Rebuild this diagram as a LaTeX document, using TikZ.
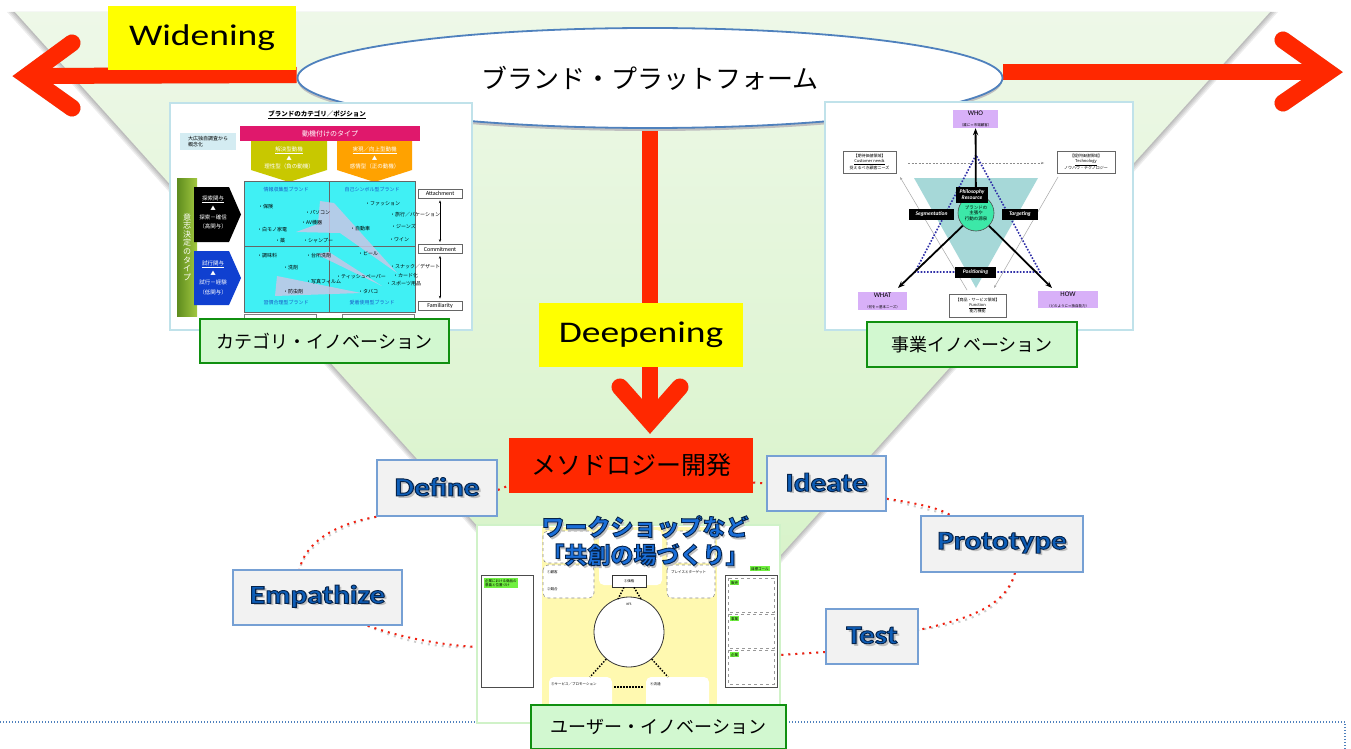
\documentclass[tikz,border=0pt]{standalone}
\usepackage{fontspec}
\usepackage{graphicx}
\setmainfont{Carlito}
\newfontfamily\jp{Noto Sans CJK JP}
\newfontfamily\lat{Carlito}
\usetikzlibrary{shapes.geometric,arrows.meta}
\pgfdeclarelayer{back}
\pgfdeclarelayer{bg}
\pgfsetlayers{back,bg,main}
\definecolor{gtop}{HTML}{EEF8E8}
\definecolor{gbot}{HTML}{D2F2C2}
\definecolor{arr}{HTML}{FF2800}
\definecolor{shadowc}{HTML}{C9D2C5}
\definecolor{ylw}{HTML}{FFFF00}
\definecolor{ellb}{HTML}{4F81BD}
\definecolor{lblfill}{HTML}{D2F8D0}
\definecolor{lbldraw}{HTML}{109010}
\definecolor{framec}{HTML}{C0E2EA}
\definecolor{dtfill}{HTML}{F2F2F2}
\definecolor{dtdraw}{HTML}{76A0D4}
\definecolor{dtblue}{HTML}{0E5EB8}
\definecolor{dtdark}{HTML}{06234A}
\definecolor{dotred}{HTML}{F02010}
\definecolor{catlb}{HTML}{D4ECF2}
\definecolor{magbar}{HTML}{E0186C}
\definecolor{olivey}{HTML}{C8C800}
\definecolor{orng}{HTML}{FFA200}
\definecolor{gbar1}{HTML}{5E8C1E}
\definecolor{gbar2}{HTML}{A2C840}
\definecolor{bluepent}{HTML}{1040D0}
\definecolor{cyangrid}{HTML}{40F0F4}
\definecolor{qblue}{HTML}{1A5AC8}
\definecolor{lav}{HTML}{C8C6E6}
\definecolor{teal}{HTML}{A6D8D8}
\definecolor{dotblue}{HTML}{3030A8}
\definecolor{lavbox}{HTML}{D8B0F8}
\definecolor{brandg}{HTML}{3CE8A8}
\definecolor{wsy}{HTML}{FFF9B0}
\definecolor{wsframe}{HTML}{D0F2C8}
\definecolor{tagg}{HTML}{70F040}
\definecolor{wsblue}{HTML}{1A6ED8}
\newcommand\hs[2][1.25]{\scalebox{#1}[1]{#2}}
% text with a dark outline (PDF text render mode 2) and a soft grey shadow
\newcommand\outl[2]{\leavevmode\rlap{\color{black!25}\hspace{2pt}\raisebox{-2.5pt}{#1}}{\color{#2}\special{pdf:literal direct 2 Tr 0.9 w 0.024 0.137 0.29 RG}#1\special{pdf:literal direct 0 Tr}}}
\tikzset{
 ybox/.style={fill=ylw, inner sep=0pt, font=\lat\fontsize{30}{34}\selectfont},
 lblbox/.style={fill=lblfill, draw=lbldraw, line width=1.8pt, inner sep=0pt, font=\jp\fontsize{18}{20}\selectfont},
 dtbox/.style={fill=dtfill, draw=dtdraw, line width=1.6pt, inner sep=0pt, font=\lat\bfseries\fontsize{26}{30}\selectfont},
 imgframe/.style={fill=white, draw=framec, line width=1.2pt, inner sep=0pt},
 redline/.style={draw=arr, line width=16pt},
 redchev/.style={draw=arr, line width=17pt, line cap=round, line join=miter},
 redshad/.style={draw=shadowc, xshift=1.5pt, yshift=-4pt},
 dotconn/.style={draw=dotred, line width=2pt, dash pattern=on 2pt off 5pt},
 dotshad/.style={draw=black!20, line width=2pt, dash pattern=on 2pt off 5pt, yshift=-4pt},
 tinytxt/.style={font=\jp\fontsize{5}{6}\selectfont, inner sep=0pt},
 wtxt/.style={font=\jp\fontsize{5.5}{6.5}\selectfont, inner sep=0pt, text=white},
 blk/.style={fill=black, text=white, font=\lat\bfseries\itshape\fontsize{5.5}{6}\selectfont, align=center, inner sep=0pt},
 lavb/.style={fill=lavbox, inner sep=0pt, align=center},
 wbox/.style={fill=white, draw=black!60, line width=0.6pt, inner sep=0pt, align=center, font=\jp\fontsize{4}{5}\selectfont},
 rlab/.style={draw=black!60, line width=0.6pt, fill=white, inner sep=0pt, font=\lat\fontsize{6}{7}\selectfont},
 dashbox/.style={draw=black!45, dashed, line width=0.6pt, rounded corners=5pt, fill=white},
 greentag/.style={fill=tagg, inner sep=1pt, font=\jp\fontsize{3.5}{4.2}\selectfont, align=left}
}
\begin{document}
\begin{tikzpicture}[x=1pt,y=-1pt,font=\jp]
\useasboundingbox (0,0) rectangle (1351,749);
\begin{pgfonlayer}{back}
\fill[white] (0,0) rectangle (1351,749);
\foreach \d in {8,6,4,2}
  \fill[black, opacity=0.07] (15-\d,12) -- (1270+\d,12) -- (642,709+\d) -- cycle;
\shade[top color=gtop, bottom color=gbot] (15,12) -- (1270,12) -- (642,709) -- cycle;
\draw[ellb, line width=1.2pt, dash pattern=on 1pt off 2pt] (0,722) -- (1345,722) -- (1345,749);
\end{pgfonlayer}

% brand platform ellipse
\fill[black!25] (650,81) ellipse [x radius=352pt, y radius=50pt];
\node[ellipse, draw=ellb, line width=1.8pt, fill=white, minimum width=705pt, minimum height=100pt, inner sep=0pt] (bp) at (650,78) {\fontsize{26}{30}\selectfont ブランド・プラットフォーム};

% arrow coordinates
\coordinate (ltip) at (27,76); \coordinate (lu) at (72,43); \coordinate (ld) at (72,108);
\coordinate (rtip) at (1328,72); \coordinate (ru) at (1283,40); \coordinate (rd) at (1283,103);
\coordinate (dtip) at (650,421); \coordinate (dl) at (620,387); \coordinate (dr) at (680,387);

\begin{pgfonlayer}{bg}
\draw[redline, redshad] ([yshift=3pt]bp.west) -- (ltip);
\draw[redchev, redshad] (lu) -- (ltip) -- (ld);
\draw[redline, redshad] ([yshift=6pt]bp.east) -- (rtip);
\draw[redchev, redshad] (ru) -- (rtip) -- (rd);
\draw[redchev, redshad] (dl) -- (dtip) -- (dr);
\draw[redline] ([yshift=3pt]bp.west) -- (ltip);
\draw[redchev] (lu) -- (ltip) -- (ld);
\draw[redline] ([yshift=6pt]bp.east) -- (rtip);
\draw[redchev] (ru) -- (rtip) -- (rd);
\draw[redline] (bp.south) -- (dtip);
\draw[redchev] (dl) -- (dtip) -- (dr);
\end{pgfonlayer}

\node[ybox, minimum width=188pt, minimum height=64pt] (wid) at (202,38) {\hs{Widening}};

% ================= category image =================
\node[imgframe, minimum width=302pt, minimum height=227pt] (catimg) at (321,216.5) {};
\node[font=\jp\bfseries\fontsize{6.5}{7}\selectfont, inner sep=0pt] (cattitle) at (317,115) {\underline{ブランドのカテゴリ／ポジション}};
\node[fill=catlb, minimum width=56pt, minimum height=17pt, inner sep=1pt, align=left, font=\jp\fontsize{5}{6}\selectfont] (catsrc) at (208,141.5) {大広独自調査から\\概念化};
\node[fill=magbar, minimum width=180pt, minimum height=15pt, inner sep=0pt, text=white, font=\jp\fontsize{7}{8}\selectfont] (motiv) at (330,133.5) {動機付けのタイプ};
\fill[olivey] (251,141) -- (327,141) -- (327,170) -- (289,182) -- (251,170) -- cycle;
\fill[orng] (337,141) -- (412,141) -- (412,170) -- (374.5,182) -- (337,170) -- cycle;
\node[wtxt] (m1a) at (289,150) {\underline{解決型動機}};
\node[wtxt] (m1b) at (289,158) {▲};
\node[wtxt] (m1c) at (289,166) {理性型（負の動機）};
\node[wtxt] (m2a) at (374.5,150) {\underline{実現／向上型動機}};
\node[wtxt] (m2b) at (374.5,158) {▲};
\node[wtxt] (m2c) at (374.5,166) {感情型（正の動機）};
\shade[left color=gbar1, right color=gbar2] (177,178) rectangle (197,316);
\node[font=\jp\fontsize{8}{8.6}\selectfont, text=white, align=center, inner sep=0pt] (vtxt) at (187,247) {意\\志\\決\\定\\の\\タ\\イ\\プ};
\fill[black] (194,187) -- (229,187) -- (241,214.5) -- (229,242) -- (194,242) -- cycle;
\fill[bluepent] (194,251) -- (229,251) -- (241,278) -- (229,305) -- (194,305) -- cycle;
\node[wtxt] (b1a) at (213,199) {\underline{探索関与}};
\node[wtxt] (b1b) at (213,208) {▲};
\node[wtxt] (b1c) at (213,217) {探索－確信};
\node[wtxt] (b1d) at (213,226) {（高関与）};
\node[wtxt] (b2a) at (213,264) {\underline{試行関与}};
\node[wtxt] (b2b) at (213,273) {▲};
\node[wtxt] (b2c) at (213,282) {試行－経験};
\node[wtxt] (b2d) at (213,292) {（低関与）};
\filldraw[fill=cyangrid, draw=black!60, line width=0.8pt] (244,181) rectangle (415,312);
\draw[black!60, line width=0.8pt] (329,181) -- (329,312) (244,246) -- (415,246);
\fill[lav, opacity=0.85] (320,201) -- (334,203) -- (397,273) -- (340,233) -- (296,232) -- (318,224) -- cycle;
\fill[lav, opacity=0.85] (316,254) -- (329,252) -- (382,286) -- cycle;
\fill[lav, opacity=0.85] (277,276) -- (361,293) -- (275,296) -- cycle;
\node[tinytxt, text=qblue] (q1) at (286,190) {情報収集型ブランド};
\node[tinytxt, text=qblue] (q2) at (372,190) {自己シンボル型ブランド};
\node[tinytxt, text=qblue] (q3) at (286,303) {習慣合理型ブランド};
\node[tinytxt, text=qblue] (q4) at (372,303) {愛着使用型ブランド};
\foreach \x/\y/\t [count=\i] in {258/207/保険, 305/213/パソコン, 301/223/AV機器, 257/230/白モノ家電, 275/241/薬, 303/241/シャンプー, 365/204/ファッション, 390/215/旅行／バケーション, 391/226/ジーンズ, 350/229/自動車, 389/240/ワイン, 257/256/調味料, 306/256/台所洗剤, 283/268/洗剤, 306/282/写真フィルム, 283/292/防虫剤, 358/253/ビール, 390/267/スナック／デザート, 336/277/ティッシュペーパー, 393/276/カード化, 386/284/スポーツ用品, 358/292/タバコ}
  \node[tinytxt, anchor=west] (it\i) at (\x,\y) {・\t};
\node[rlab, minimum width=44pt, minimum height=9pt] (att) at (440,193.5) {Attachment};
\node[rlab, minimum width=44pt, minimum height=9pt] (com) at (440,249) {Commitment};
\node[rlab, minimum width=44pt, minimum height=9pt] (fam) at (440,305.5) {Familiarity};
\draw[{Stealth[length=3pt]}-{Stealth[length=3pt]}, line width=0.8pt] ([yshift=-2pt]att.south) -- ([yshift=2pt]com.north);
\draw[{Stealth[length=3pt]}-{Stealth[length=3pt]}, line width=0.8pt] ([yshift=-2pt]com.south) -- ([yshift=2pt]fam.north);
\draw[black!50, line width=0.6pt] (244,320) -- (244,314) -- (316,314) -- (316,320) (342,320) -- (342,314) -- (414,314) -- (414,320);
\node[lblbox, minimum width=249pt, minimum height=44pt] (catlbl) at (324.5,341) {カテゴリ・イノベーション};

% ================= business image =================
\node[imgframe, minimum width=308pt, minimum height=228pt] (bizimg) at (979,216) {};
\fill[teal] (914,178) -- (1038,178) -- (976,288) -- cycle;
\draw[black!45, line width=0.5pt, dash pattern=on 2pt off 1.5pt, -{Stealth[length=3pt]}] (908,163) -- (1044,163);
\draw[black!35, line width=0.5pt, -{Stealth[length=3pt]}] (967,290) -- (900,177);
\draw[black!35, line width=0.5pt, -{Stealth[length=3pt]}] (1058,177) -- (994,288);
\draw[dotblue, line width=1.6pt, dash pattern=on 1.6pt off 1.6pt] (976,155) -- (915,272) -- (1040,272) -- cycle;
\node[lavb, minimum width=45pt, minimum height=18pt] (who) at (975.5,119) {\lat\fontsize{7}{7.5}\selectfont WHO\\[-1pt]\jp\fontsize{3.5}{4}\selectfont （誰に＝市場顧客）};
\node[lavb, minimum width=49pt, minimum height=18pt] (what) at (882.5,301) {\lat\fontsize{7}{7.5}\selectfont WHAT\\[-1pt]\jp\fontsize{3.5}{4}\selectfont （何を＝基本ニーズ）};
\node[lavb, minimum width=60pt, minimum height=17pt] (how) at (1068,299.5) {\lat\fontsize{7}{7.5}\selectfont HOW\\[-1pt]\jp\fontsize{3.5}{4}\selectfont （どのように＝独自能力）};
\node[circle, draw=black!70, line width=0.6pt, fill=brandg, minimum size=36pt, inner sep=0pt, align=center, font=\jp\fontsize{4.5}{5.5}\selectfont] (brc) at (976,213) {ブランドの\\主張や\\行動の源泉};
\draw[line width=1.8pt, -{Stealth[length=7pt]}] (brc) -- (who);
\draw[line width=1.8pt, -{Stealth[length=7pt]}] (brc) -- (898,288);
\draw[line width=1.8pt, -{Stealth[length=7pt]}] (brc) -- (1052,288);
\node[blk, minimum width=32pt, minimum height=16pt] (phil) at (972,195) {Philosophy\\Resource};
\node[blk, minimum width=45pt, minimum height=11pt] (seg) at (931.5,214.5) {Segmentation};
\node[blk, minimum width=36pt, minimum height=11pt] (tar) at (1020,214.5) {Targeting};
\node[blk, minimum width=41pt, minimum height=11pt] (pos) at (975.5,272.5) {Positioning};
\node[wbox, minimum width=53pt, minimum height=22pt] (cn) at (869.5,162) {【期待価値領域】\\\underline{Customer needs}\\捉えるべき顧客ニーズ};
\node[wbox, minimum width=58pt, minimum height=22pt] (tech) at (1086,162) {【提供価値領域】\\\underline{Technology}\\ノウハウ・テクノロジー};
\node[wbox, minimum width=57pt, minimum height=23pt] (func) at (977.5,305.5) {【商品・サービス領域】\\\underline{Function}\\能力機能};
\node[lblbox, minimum width=210pt, minimum height=45pt] (bizlbl) at (972,344.5) {事業イノベーション};

% ================= deepening / methodology =================
\node[ybox, minimum width=204pt, minimum height=64pt] (deep) at (641,335) {\hs{Deepening}};
\node[fill=arr, minimum width=244pt, minimum height=55pt, inner sep=0pt, font=\jp\fontsize{25}{28}\selectfont] (meth) at (631,465.5) {メソドロジー開発};

% ================= workshop image =================
\node[fill=white, draw=wsframe, line width=1.2pt, minimum width=303pt, minimum height=198pt, inner sep=0pt] (ws) at (628.5,624) {};
\fill[wsy] (542,527) rectangle (717,749);
\draw[dashbox] (543,531) rectangle (594,563);
\draw[dashbox] (543,565) rectangle (594,598);
\fill[white, rounded corners=5pt] (599,530) rectangle (662,585);
\draw[dashbox] (667,531) rectangle (715,563);
\draw[dashbox] (667,565) rectangle (715,598);
\node[tinytxt, font=\jp\fontsize{3.5}{4}\selectfont, anchor=west] (w2) at (547,572) {①顧客};
\node[tinytxt, font=\jp\fontsize{3.5}{4}\selectfont, anchor=west] (w1) at (547,589) {②競合};
\node[tinytxt, font=\jp\fontsize{3.5}{4}\selectfont, anchor=west] (w3) at (671,572) {プレイスとターゲット};
\node[draw=black!80, fill=white, line width=0.6pt, minimum width=34pt, minimum height=12pt, inner sep=0pt, font=\jp\fontsize{3.5}{4}\selectfont] (price) at (629,581) {③価格};
\node[circle, draw=black!80, fill=white, line width=0.8pt, minimum size=70pt, inner sep=0pt] (kfs) at (629,632) {};
\node[tinytxt, font=\lat\fontsize{3.5}{4}\selectfont] (kfst) at (629,604) {KFS};
\draw[line width=1.5pt, dash pattern=on 1.5pt off 1.5pt] ([xshift=-5pt]price.south) -- (618,599);
\draw[line width=1.5pt, dash pattern=on 1.5pt off 1.5pt] ([xshift=5pt]price.south) -- (641,599);
\fill[white, rounded corners=5pt] (549,677) rectangle (612,752);
\fill[white, rounded corners=5pt] (646,677) rectangle (709,752);
\node[tinytxt, font=\jp\fontsize{3.5}{4}\selectfont, anchor=west] (w5) at (551,684) {⑤サービス／プロモーション};
\node[tinytxt, font=\jp\fontsize{3.5}{4}\selectfont, anchor=west] (w4) at (650,684) {④流通};
\draw[line width=1.5pt, dash pattern=on 1.5pt off 1.5pt] (kfs.230) -- (590,677);
\draw[line width=1.5pt, dash pattern=on 1.5pt off 1.5pt] (kfs.310) -- (668,677);
\draw[line width=1.5pt, dash pattern=on 1.5pt off 1.5pt] (614,687) -- (644,687);
\draw[black!70, line width=0.8pt, fill=white] (481,575) rectangle (533,687);
\node[greentag, anchor=north west] (tagl) at (484,578) {企業における商品の\\意義と位置づけ};
\draw[black!70, line width=0.8pt, fill=white] (725,575) rectangle (777,687);
\draw[black!40, dashed, line width=0.5pt] (728,578) rectangle (774,612) (728,614) rectangle (774,648) (728,650) rectangle (774,684);
\node[greentag, anchor=north west] (tag1) at (730,580) {販売};
\node[greentag, anchor=north west] (tag2) at (730,616) {事業};
\node[greentag, anchor=north west] (tag3) at (730,652) {企業};
\node[greentag, anchor=north west] (tag0) at (750,566) {目標ゴール};
\node[font=\jp\bfseries\fontsize{23}{26}\selectfont, inner sep=0pt] (wst1) at (645,528) {\outl{ワークショップなど}{wsblue}};
\node[font=\jp\bfseries\fontsize{23}{26}\selectfont, inner sep=0pt] (wst2) at (645,556) {\outl{「共創の場づくり」}{wsblue}};
\node[lblbox, minimum width=255pt, minimum height=44pt] (wslbl) at (658.5,727) {ユーザー・イノベーション};

% ================= design thinking =================
\node[dtbox, minimum width=120pt, minimum height=56pt] (def) at (437,488) {\hs[1.2]{\outl{Define}{dtblue}}};
\node[dtbox, minimum width=169pt, minimum height=55pt] (emp) at (317.5,597.5) {\hs[1.2]{\outl{Empathize}{dtblue}}};
\node[dtbox, minimum width=119pt, minimum height=55pt] (ide) at (826.5,483.5) {\hs[1.2]{\outl{Ideate}{dtblue}}};
\node[dtbox, minimum width=162pt, minimum height=56pt] (pro) at (1002,544) {\hs[1.2]{\outl{Prototype}{dtblue}}};
\node[dtbox, minimum width=92pt, minimum height=55pt] (tst) at (872,636.5) {\hs[1.2]{\outl{Test}{dtblue}}};

\begin{pgfonlayer}{bg}
\foreach \st in {dotshad, dotconn} {
 \draw[\st] (def.south west) .. controls (330,525) and (305,545) .. ([xshift=-18pt]emp.north);
 \draw[\st] ([xshift=-35pt]emp.south east) .. controls (400,637) and (440,645) .. ([yshift=-23pt]ws.west);
 \draw[\st] ([yshift=-2pt]def.east) -- ([yshift=-20pt]meth.west);
 \draw[\st] ([yshift=-17pt]meth.east) -- (ide.west);
 \draw[\st] ([yshift=13pt]ide.south east) .. controls (915,503) and (940,508) .. ([xshift=30pt]pro.north west);
 \draw[\st] ([xshift=13pt]pro.south) .. controls (1005,610) and (960,620) .. ([yshift=6.5pt]tst.east);
 \draw[\st] ([yshift=-15.5pt]tst.west) -- ([yshift=-31pt]ws.east);
}
\end{pgfonlayer}
\end{tikzpicture}
\end{document}
